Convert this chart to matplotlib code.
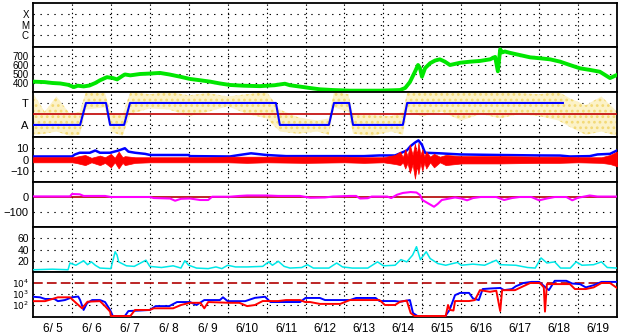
import numpy as np
import matplotlib
matplotlib.use("Agg")
import matplotlib.pyplot as plt
from matplotlib.ticker import NullLocator

plt.rcParams['font.family'] = ['Liberation Sans', 'DejaVu Sans']
plt.rcParams['lines.scale_dashes'] = False
plt.rcParams['hatch.linewidth'] = 1.2

# time axis: days after 6/5 00:00
day_labels = ['6/ 5', '6/ 6', '6/ 7', '6/ 8', '6/ 9', '6/10', '6/11', '6/12',
              '6/13', '6/14', '6/15', '6/16', '6/17', '6/18', '6/19']

# x-ray class panel (empty)
xray_labels = ['C', 'M', 'X']

# solar wind speed
speed_t = [0, 0.3, 0.5, 0.7, 0.9, 1.05, 1.15, 1.3, 1.45, 1.6, 1.72, 1.9, 2.05, 2.16, 2.3, 2.36,
           2.5, 2.75, 3.0, 3.26, 3.5, 3.78, 4.03, 4.3, 4.55, 4.8, 5.06, 5.4, 5.83, 6.2, 6.47,
           6.6, 6.86, 7.1, 7.37, 7.7, 8.14, 8.5, 8.91, 9.3, 9.43, 9.56, 9.68, 9.81, 9.89, 9.94,
           9.99, 10.07, 10.2, 10.33, 10.45, 10.58, 10.71, 10.97, 11.23, 11.48, 11.74, 11.87,
           11.94, 12.0, 12.05, 12.12, 12.25, 12.51, 12.77, 13.02, 13.28, 13.54, 13.79, 14.05,
           14.31, 14.56, 14.69, 14.82, 15.0]
speed_v = [415, 410, 400, 395, 380, 355, 370, 362, 372, 400, 430, 465, 455, 440, 480, 495,
           485, 500, 505, 512, 495, 470, 445, 430, 415, 395, 378, 370, 365, 375, 392,
           375, 360, 345, 330, 322, 315, 315, 315, 320, 322, 345, 410, 525, 600, 565,
           470, 565, 620, 650, 663, 637, 600, 625, 637, 645, 663, 690,
           530, 775, 740, 750, 735, 710, 685, 675, 663, 637, 600, 563,
           545, 525, 490, 455, 490]

# magnetic sector / polarity (A=0, T=1)
sector_t = [0, 1.21, 1.36, 1.875, 1.98, 2.34, 2.49, 6.24, 6.34, 7.60, 7.73, 8.12, 8.22,
            9.50, 9.61, 13.61]
sector_v = [0, 0, 1, 1, 0, 0, 1, 1, 0, 0, 1, 1, 0, 0, 1, 1]
phi_t = [0, 0.3, 0.6, 0.95, 1.2, 1.36, 1.85, 2.0, 2.3, 2.5, 3.0, 3.5, 4.0, 4.5, 5.0, 5.5,
         6.0, 6.34, 6.8, 7.3, 7.6, 7.73, 8.1, 8.22, 8.7, 9.2, 9.5, 9.61, 10.0, 10.5, 11.0,
         11.5, 12.0, 12.5, 13.0, 13.5, 13.8, 14.2, 14.6, 15.0]
phi_lo = [-0.45, -0.4, -0.3, -0.5, -0.45, 0.7, 0.8, -0.3, -0.5, 0.5, 0.75, 0.7, 0.4, 0.6,
          0.85, 0.5, 0.3, -0.3, -0.4, -0.3, -0.45, 0.8, 0.6, -0.4, -0.5, -0.3, -0.45, 0.6,
          0.4, 0.6, 0.2, 0.5, 0.3, 0.5, 0.4, 0.2, -0.1, -0.45, -0.3, -0.5]
phi_hi = [1.45, 0.6, 1.3, 0.5, 0.6, 1.5, 1.45, 0.55, 0.45, 1.5, 1.4, 1.5, 1.35, 1.45,
          1.3, 1.4, 1.5, 0.7, 0.35, 0.2, 0.3, 1.5, 1.4, 0.5, 0.45, 0.4, 0.6, 1.45,
          1.5, 1.5, 1.45, 1.5, 1.5, 1.45, 1.4, 1.5, 1.2, 0.9, 1.3, 0.6]

# IMF Bt and Bz (nT)
bt_t = [0, 1.0, 1.08, 1.2, 1.46, 1.6, 1.72, 1.98, 2.2, 2.36, 2.45, 2.62, 2.88, 3.01, 4.0,
        4.03, 5.06, 5.3, 5.6, 6.0, 6.5, 7.5, 8.5, 8.9, 9.3, 9.43, 9.6, 9.7, 9.81, 9.9, 9.99,
        10.07, 10.45, 10.97, 12.0, 13.0, 13.54, 13.79, 14.3, 14.5, 14.82, 15.0]
bt_v = [2.7, 2.7, 4.5, 6, 6, 8, 6, 6, 8, 10, 7, 6, 5, 4, 4,
        3, 2.7, 4, 5.5, 4, 3, 3, 3, 3.6, 3.6, 5.5, 8, 12, 15, 17, 13,
        6, 5.5, 4.5, 4, 3.6, 3.5, 2.7, 3, 4.5, 5, 8]
bz_t = [0, 1.0, 1.1, 1.34, 1.5, 1.72, 1.85, 2.0, 2.1, 2.2, 2.3, 2.36, 2.62, 3.0, 4.5, 5.0,
        5.5, 6.0, 7.0, 8.0, 8.5, 9.0, 9.3, 9.43, 9.5, 9.56, 9.62, 9.68, 9.75, 9.81, 9.86,
        9.9, 9.95, 10.0, 10.05, 10.1, 10.2, 10.3, 10.45, 10.6, 11.0, 12.0, 13.0, 13.5, 14.0,
        14.6, 14.82, 15.0]
bz_lo = [-2.5, -2.5, -3, -5, -2.5, -5, -3, -7, -2.5, -8, -3, -5, -3, -2.5, -2.5, -2.5,
         -3, -2.5, -3, -2.5, -3, -2.5, -4, -5, -2.5, -8, -3, -12, -4, -17, -6,
         -13, -3, -10, -2.5, -8, -2.5, -7, -2.5, -5, -3.5, -3.5, -3, -3, -2.5,
         -3, -4, -6]
bz_hi = [2, 2, 2.5, 4, 1.5, 3.5, 2, 5, 1.5, 7, 2, 3, 2, 2, 2, 2.5,
         2.5, 2.5, 2.5, 2.5, 2, 2, 4, 7, 2, 9, 3, 13, 4, 14, 5,
         15, 4, 9, 2.5, 7, 2.5, 5, 2.5, 4, 3, 3, 2.5, 2.5, 2,
         2, 4, 7]

# Dst (nT)
dst_t = [0, 0.95, 1.0, 1.2, 1.3, 1.85, 2.0, 3.0, 3.1, 3.52, 3.65, 3.8, 4.03, 4.29, 4.5, 4.6,
         5.06, 5.3, 5.5, 6.0, 6.3, 6.86, 7.12, 7.5, 7.7, 8.14, 8.3, 8.4, 8.6, 8.7, 9.1, 9.2,
         9.35, 9.5, 9.7, 9.85, 9.94, 10.0, 10.2, 10.3, 10.4, 10.5, 10.7, 10.84, 11.0, 11.15,
         11.3, 11.5, 11.9, 12.1, 12.3, 12.5, 12.8, 13.0, 13.2, 13.4, 13.7, 13.85, 14.0, 14.3,
         14.5, 15.0]
dst_v = [4, 4, 20, 18, 7, 7, 0, 0, -7, -10, -25, -12, -10, -20, -20, 2,
         2, 7, 10, 10, 7, 7, -5, -3, 3, 7, 7, -10, -8, 3, 3, -7,
         15, 27, 33, 30, 13, -20, -50, -65, -45, -20, -10, -3, -10, -22,
         -7, 0, 0, -20, -7, 0, 0, -22, -10, 0, 0, -22, -5, 10,
         3, 3]

# proton temperature-like index (cyan)
cy_t = [0, 0.5, 0.9, 0.95, 1.1, 1.3, 1.4, 1.5, 1.6, 1.72, 2.0, 2.11, 2.16, 2.2, 2.4, 2.6,
        2.9, 3.0, 3.3, 3.6, 3.8, 3.9, 4.0, 4.2, 4.5, 4.7, 4.85, 5.0, 5.2, 5.5, 5.9, 6.05,
        6.15, 6.3, 6.45, 6.6, 6.9, 7.05, 7.2, 7.6, 7.8, 7.95, 8.2, 8.6, 8.85, 9.0, 9.3, 9.45,
        9.6, 9.75, 9.85, 9.95, 10.1, 10.2, 10.4, 10.6, 10.9, 11.0, 11.3, 11.6, 11.9, 12.0,
        12.4, 12.7, 12.9, 13.05, 13.2, 13.4, 13.55, 13.8, 13.95, 14.1, 14.4, 14.6, 14.75, 15.0]
cy_v = [4, 5, 4, 16, 12, 20, 13, 18, 12, 7, 6, 36, 30, 18, 11, 10,
        21, 10, 8, 11, 7, 20, 12, 7, 6, 9, 6, 12, 9, 9, 10, 18,
        12, 19, 10, 7, 8, 13, 7, 7, 16, 9, 7, 7, 18, 11, 12, 22,
        18, 30, 45, 22, 36, 24, 15, 12, 17, 12, 14, 12, 21, 13,
        12, 8, 7, 25, 16, 18, 7, 7, 18, 12, 13, 18, 8, 7]

# particle fluxes (log10)
flux_b_t = [0, 0.18, 0.31, 0.55, 0.64, 0.82, 1.0, 1.16, 1.21, 1.3, 1.39, 1.52, 1.72, 1.85,
            1.98, 2.05, 2.36, 2.45, 2.75, 3.0, 3.15, 3.5, 3.7, 4.03, 4.2, 4.4, 4.8, 4.88, 5.0,
            5.45, 5.7, 5.96, 6.1, 6.86, 7.0, 7.37, 7.5, 8.14, 8.3, 8.8, 8.9, 9.3, 9.43, 9.68,
            9.76, 9.9, 10.58, 10.7, 10.84, 10.97, 11.2, 11.3, 11.45, 11.55, 11.74, 12.0, 12.1,
            12.3, 12.4, 12.6, 12.8, 13.0, 13.1, 13.25, 13.4, 13.7, 13.85, 14.05, 14.2, 14.4,
            14.6, 15.0]
flux_b_v = [2.75, 2.7, 2.55, 2.55, 2.35, 2.45, 2.7, 2.77, 2.45, 1.55, 2.18, 2.45, 2.45, 2.27,
            1.55, 1.0, 1.0, 1.45, 1.5, 1.55, 1.9, 1.9, 2.27, 2.27, 2.0, 2.45, 2.45, 2.7, 2.35,
            2.35, 2.65, 2.75, 2.27, 2.27, 2.64, 2.64, 2.45, 2.45, 2.64, 2.64, 2.36, 2.36, 2.3, 2.45,
            1.27, 0.94, 0.94, 1.55, 2.9, 3.1, 3.1, 2.6, 2.45, 3.45, 3.5, 3.55, 3.35,
            3.45, 3.7, 4.0, 4.1, 4.1, 3.8, 3.35, 4.2, 4.2, 3.95, 3.9, 3.6, 3.8,
            4.1, 4.1]
flux_r_t = [0, 0.31, 0.64, 0.95, 1.08, 1.26, 1.4, 1.72, 1.85, 1.98, 2.0, 2.5, 2.62, 3.0, 3.1,
            3.6, 3.8, 4.03, 4.3, 4.4, 4.5, 5.06, 5.3, 5.5, 5.7, 5.9, 6.3, 6.5, 6.86, 6.99, 7.12,
            7.37, 7.89, 8.14, 8.9, 9.04, 9.3, 9.43, 9.6, 9.7, 9.8, 10.6, 10.66, 10.71, 10.8,
            10.84, 11.2, 11.35, 11.48, 11.74, 11.9, 12.0, 12.05, 12.38, 12.5, 12.77, 13.02,
            13.12, 13.15, 13.2, 13.54, 13.79, 13.92, 14.2, 14.4, 14.6, 14.82, 15.0]
flux_r_v = [2.35, 2.35, 2.7, 2.7, 2.27, 1.7, 2.3, 2.35, 1.9, 1.4, 1.0, 1.0, 1.55, 1.55, 1.7,
            1.7, 2.0, 2.2, 2.2, 1.7, 2.27, 2.2, 2.2, 1.9, 2.0, 2.36, 2.36, 2.45, 2.45, 2.27, 2.27,
            2.1, 2.1, 2.45, 2.45, 2.0, 2.0, 2.3, 2.4, 1.27, 1.0, 1.0, 2.0, 1.55, 1.5,
            2.36, 2.36, 2.45, 3.35, 3.2, 3.3, 1.45, 3.35, 3.35, 3.55, 4.0, 4.0,
            3.6, 1.4, 3.9, 3.9, 3.9, 3.45, 3.45, 3.6, 4.0, 4.0, 3.55]

W, H = 628, 334
fig = plt.figure(figsize=(W / 100, H / 100), dpi=100)
fig.patch.set_facecolor('white')

panels = [(3, 47), (47, 92), (92, 137), (137, 182), (182, 227), (227, 272), (272, 317)]
left, right = 33, 617
axes = []
for top, bot in panels:
    ax = fig.add_axes([left / W, 1 - bot / H, (right - left) / W, (bot - top) / H])
    ax.set_xlim(0, 15)
    ax.set_xticks([])
    for s in ax.spines.values():
        s.set_linewidth(1.3)
    ax.tick_params(axis='y', length=0, pad=3, labelsize=8)
    for d in range(1, 15):
        ax.axvline(d, color='black', lw=0.8, ls=(0, (1, 2)), zorder=1)
    axes.append(ax)

hdots = dict(color='black', lw=0.8, ls=(0, (1, 4)), zorder=1)

# 1: x-ray class
ax = axes[0]
ax.set_ylim(-1.14, 3.05)
ax.set_yticks([0, 1, 2], xray_labels, fontsize=7)
for y in [0, 1, 2]:
    ax.axhline(y, **hdots)

# 2: speed
ax = axes[1]
ax.set_ylim(300, 800)
ax.set_yticks([400, 500, 600, 700])
ax.tick_params(axis='y', labelsize=7)
for y in [400, 500, 600, 700]:
    ax.axhline(y, **hdots)
ax.plot(speed_t, speed_v, color='#00e600', lw=2.8, zorder=3)

# 3: sector
ax = axes[2]
ax.set_ylim(-0.55, 1.5)
ax.set_yticks([0, 1], ['A', 'T'])
for y in [0, 1]:
    ax.axhline(y, **hdots)
ax.fill_between(phi_t, phi_lo, phi_hi, facecolor='#fcf2c8', edgecolor='none', zorder=2)
ax.fill_between(phi_t, phi_lo, phi_hi, facecolor='none', edgecolor='#f3d975',
                hatch='...', linewidth=0, zorder=2)
ax.axhline(0.5, color='#c00000', lw=1.2, zorder=3)
ax.plot(sector_t, sector_v, color='#0000ff', lw=1.5, zorder=4)

# 4: Bt / Bz
ax = axes[3]
ax.set_ylim(-20, 20)
ax.set_yticks([-10, 0, 10])
for y in [-10, 10]:
    ax.axhline(y, **hdots)
ax.axhline(0, color='#b00000', lw=1, zorder=2)
ax.plot(bt_t, bt_v, color='#0000ff', lw=1.8, zorder=3)
ax.fill_between(bz_t, bz_lo, bz_hi, color='#ff0000', linewidth=0.5, zorder=4)

# 5: Dst
ax = axes[4]
ax.set_ylim(-200, 100)
ax.set_yticks([-100, 0])
ax.axhline(-100, **hdots)
ax.axhline(0, color='#b00000', lw=1.2, zorder=2)
ax.plot(dst_t, dst_v, color='#ff00ff', lw=1.5, zorder=3)

# 6: cyan
ax = axes[5]
ax.set_ylim(0, 80)
ax.set_yticks([20, 40, 60])
ax.tick_params(axis='y', labelsize=7.5)
for y in [20, 40, 60]:
    ax.axhline(y, **hdots)
ax.plot(cy_t, cy_v, color='#00e8e8', lw=1.1, zorder=3)

# 7: fluxes
ax = axes[6]
ax.set_yscale('log')
ax.set_ylim(10 ** 0.91, 1e5)
ax.set_yticks([1e2, 1e3, 1e4], [r'$10^2$', r'$10^3$', r'$10^4$'])
ax.yaxis.set_minor_locator(NullLocator())
ax.tick_params(axis='y', labelsize=6.5)
for y in [1e2, 1e3]:
    ax.axhline(y, **hdots)
ax.axhline(1e4, color='#b00000', lw=1.2, ls=(0, (7, 3)), zorder=2)
ax.plot(flux_b_t, 10 ** np.array(flux_b_v), color='#0000ff', lw=1.4, zorder=3)
ax.plot(flux_r_t, 10 ** np.array(flux_r_v), color='#ff0000', lw=1.4, zorder=4)
ax.set_xticks(np.arange(15) + 0.5, day_labels)
ax.tick_params(axis='x', length=0, pad=4, labelsize=8.5)

fig.savefig('out.png', dpi=100)
